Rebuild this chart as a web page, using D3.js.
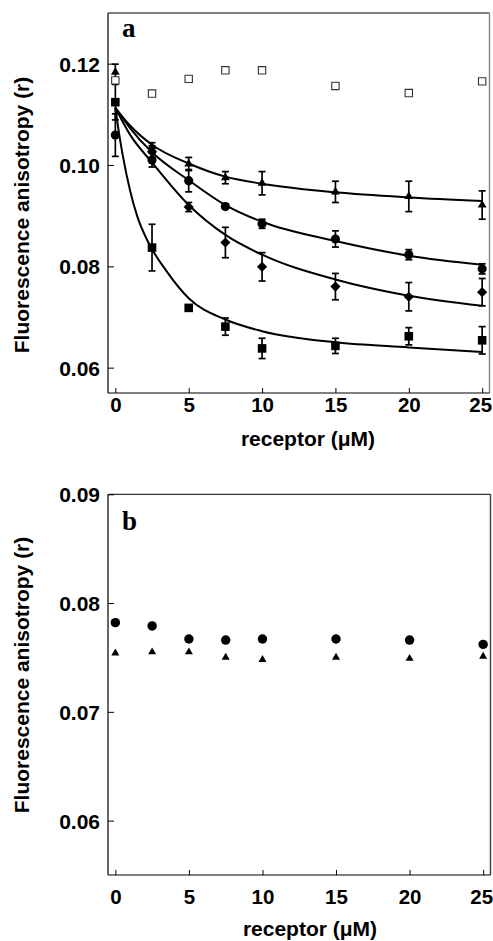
<!DOCTYPE html>
<html><head><meta charset="utf-8">
<script src="https://cdn.jsdelivr.net/npm/d3@7"></script>
<style>
body{margin:0;background:#fff}
svg text{font-family:"Liberation Sans",Arial,Helvetica,sans-serif;font-weight:bold;fill:#000}
</style>
</head><body>
<svg id="chart" width="493" height="941"></svg>
<script>
// ---------- data ----------
const conc = [0, 2.5, 5, 7.5, 10, 15, 20, 25];
const xTicks = [0, 5, 10, 15, 20, 25];
const yTicksA = [0.06, 0.08, 0.10, 0.12];
const yTicksB = [0.06, 0.07, 0.08, 0.09];

// panel a measured points (mean, error)
const openSquareA = [0.1167, 0.1141, 0.1170, 0.1187, 0.1187, 0.1156, 0.1142, 0.1165];
const triangleA   = [0.1183, 0.1036, 0.1002, 0.0975, 0.0964, 0.0947, 0.0938, 0.0921];
const triangleErr = [0.0016, 0.0008, 0.0013, 0.0012, 0.0023, 0.0021, 0.0030, 0.0028];
const circleA     = [0.1059, 0.1010, 0.0969, 0.0918, 0.0884, 0.0854, 0.0823, 0.0795];
const circleErr   = [0.0042, 0.0014, 0.0022, 0.0004, 0.0009, 0.0016, 0.0010, 0.0010];
const diamondConc = [2.5, 5, 7.5, 10, 15, 20, 25];
const diamondA    = [0.1026, 0.0917, 0.0847, 0.0799, 0.0760, 0.0740, 0.0749];
const diamondErr  = [0.0012, 0.0009, 0.0030, 0.0028, 0.0026, 0.0028, 0.0027];
const squareA     = [0.1124, 0.0837, 0.0718, 0.0681, 0.0638, 0.0643, 0.0662, 0.0654];
const squareErr   = [0.0035, 0.0046, 0.0005, 0.0017, 0.0020, 0.0015, 0.0017, 0.0027];

// panel a fitted curves
const fitConc     = [0, 1, 2.5, 5, 7.5, 10, 15, 20, 25];
const triangleFit = [0.1113, 0.1078, 0.1040, 0.1003, 0.0977, 0.0963, 0.0946, 0.0936, 0.0929];
const circleFit   = [0.1113, 0.1073, 0.1025, 0.0970, 0.0921, 0.0888, 0.0850, 0.0821, 0.0803];
const diamondFit  = [0.1113, 0.1060, 0.1005, 0.0921, 0.0862, 0.0823, 0.0774, 0.0742, 0.0722];
const squareFitConc = [0, 0.25, 0.5, 1, 1.5, 2.2, 3.5, 5, 7.5, 10, 15, 20, 25];
const squareFit   = [0.1113, 0.1063, 0.1020, 0.0950, 0.0898, 0.0850, 0.0790, 0.0737, 0.0695, 0.0672, 0.0650, 0.0640, 0.0631];

// panel b points
const circleB   = [0.0782, 0.0779, 0.0767, 0.0766, 0.0767, 0.0767, 0.0766, 0.0762];
const triangleB = [0.0754, 0.0755, 0.0755, 0.0750, 0.0748, 0.0750, 0.0749, 0.0751];

// ---------- drawing ----------
const svg = d3.select("#chart");
const fontSize = 21;

const diamondType = {
  draw(ctx, size) {
    const r = Math.sqrt(size / 2);
    ctx.moveTo(0, -r); ctx.lineTo(r, 0); ctx.lineTo(0, r); ctx.lineTo(-r, 0); ctx.closePath();
  }
};

function panel(cfg) {
  const x = d3.scaleLinear().domain([-0.5, 25.5]).range([cfg.left, cfg.right]);
  const y = d3.scaleLinear().domain(cfg.yDomain).range([cfg.bottom, cfg.top]);
  const g = svg.append("g");

  // frame
  g.append("line").attr("x1", cfg.left).attr("x2", cfg.right).attr("y1", cfg.top).attr("y2", cfg.top)
    .attr("stroke", "#000").attr("stroke-width", 1);
  g.append("line").attr("x1", cfg.right).attr("x2", cfg.right).attr("y1", cfg.top).attr("y2", cfg.bottom)
    .attr("stroke", cfg.rightColor).attr("stroke-width", 1.5);

  // axes
  const xa = g.append("g").attr("transform", `translate(0,${cfg.bottom})`)
    .call(d3.axisBottom(x).tickValues(xTicks).tickFormat(d3.format("d"))
      .tickSizeInner(-5).tickSizeOuter(0).tickPadding(cfg.xPad));
  xa.select(".domain").remove();
  xa.selectAll(".tick line").attr("stroke-width", 1);
  xa.selectAll(".tick text").filter(d => d === 25).attr("dx", -2);
  xa.attr("font-size", fontSize - 0.5).attr("font-family", null);

  const ya = g.append("g").attr("transform", `translate(${cfg.left},0)`)
    .call(d3.axisLeft(y).tickValues(cfg.yTicks).tickFormat(d3.format(".2f"))
      .tickSizeInner(-6).tickSizeOuter(0).tickPadding(8));
  ya.select(".domain").remove();
  ya.selectAll(".tick text").attr("dy", "0.36em");
  ya.attr("font-size", fontSize).attr("font-family", null);

  g.append("line").attr("x1", cfg.left).attr("x2", cfg.left).attr("y1", cfg.top).attr("y2", cfg.bottom)
    .attr("stroke", "#000").attr("stroke-width", 1.2);
  g.append("line").attr("x1", cfg.left).attr("x2", cfg.right).attr("y1", cfg.bottom).attr("y2", cfg.bottom)
    .attr("stroke", "#000").attr("stroke-width", 1.2);

  // titles
  g.append("text").attr("x", cfg.xTitleX).attr("y", cfg.xTitleY).attr("text-anchor", "middle")
    .attr("font-size", fontSize).text("receptor (\u03BCM)");
  g.append("text").attr("transform", `translate(29,${cfg.yTitleY}) rotate(-90)`)
    .attr("text-anchor", "middle").attr("font-size", fontSize).text("Fluorescence  anisotropy (r)");
  g.append("text").attr("x", cfg.left + 14).attr("y", cfg.labelY)
    .style("font-family", "'Liberation Serif','Times New Roman',serif").style("font-weight", "bold")
    .attr("font-size", 27).text(cfg.label);

  return {g, x, y};
}

function drawErr(g, x, y, xs, vals, errs) {
  const eg = g.append("g").attr("stroke", "#000").attr("stroke-width", 1.7);
  xs.forEach((c, i) => {
    const e = errs[i];
    if (!e) return;
    const px = x(c), y1 = y(vals[i] - e), y2 = y(vals[i] + e);
    eg.append("line").attr("x1", px).attr("x2", px).attr("y1", y1).attr("y2", y2);
    eg.append("line").attr("x1", px - 3.5).attr("x2", px + 3.5).attr("y1", y1).attr("y2", y1);
    eg.append("line").attr("x1", px - 3.5).attr("x2", px + 3.5).attr("y1", y2).attr("y2", y2);
  });
}

function drawMarks(g, x, y, xs, vals, type, size, fill, stroke) {
  const sym = d3.symbol().type(type).size(size);
  g.append("g").selectAll("path").data(xs.map((c, i) => [c, vals[i]])).join("path")
    .attr("transform", d => `translate(${x(d[0])},${y(d[1])})`)
    .attr("d", sym)
    .attr("fill", fill)
    .attr("stroke", stroke || "none")
    .attr("stroke-width", stroke ? 1.1 : 0);
}

function drawFit(g, x, y, xs, vals) {
  const line = d3.line().x((d, i) => x(xs[i])).y(d => y(d)).curve(d3.curveMonotoneX);
  g.append("path").attr("d", line(vals)).attr("fill", "none").attr("stroke", "#000").attr("stroke-width", 2);
}

// Panel a
const A = panel({left: 108, right: 489.5, top: 13, bottom: 393, yDomain: [0.055, 0.13],
  yTicks: yTicksA, xPad: 4, xTitleX: 308, xTitleY: 446, yTitleY: 215, label: "a", labelY: 37,
  rightColor: "#8a8a8a"});
drawFit(A.g, A.x, A.y, fitConc, triangleFit);
drawFit(A.g, A.x, A.y, fitConc, circleFit);
drawFit(A.g, A.x, A.y, fitConc, diamondFit);
drawFit(A.g, A.x, A.y, squareFitConc, squareFit);
drawErr(A.g, A.x, A.y, conc, triangleA, triangleErr);
drawErr(A.g, A.x, A.y, conc, circleA, circleErr);
drawErr(A.g, A.x, A.y, diamondConc, diamondA, diamondErr);
drawErr(A.g, A.x, A.y, conc, squareA, squareErr);
drawMarks(A.g, A.x, A.y, conc, triangleA, d3.symbolTriangle, 34, "#000");
drawMarks(A.g, A.x, A.y, conc, circleA, d3.symbolCircle, 66, "#000");
drawMarks(A.g, A.x, A.y, diamondConc, diamondA, diamondType, 52, "#000");
drawMarks(A.g, A.x, A.y, conc, squareA, d3.symbolSquare, 74, "#000");
drawMarks(A.g, A.x, A.y, conc, openSquareA, d3.symbolSquare, 54, "#fff", "#333");

// Panel b
const B = panel({left: 108, right: 490.5, top: 494.3, bottom: 875, yDomain: [0.055, 0.09],
  yTicks: yTicksB, xPad: 14.5, xTitleX: 310, xTitleY: 936, yTitleY: 675, label: "b", labelY: 530,
  rightColor: "#444"});
drawMarks(B.g, B.x, B.y, conc, circleB, d3.symbolCircle, 70, "#000");
drawMarks(B.g, B.x, B.y, conc, triangleB, d3.symbolTriangle, 28, "#000");
</script>
</body></html>
